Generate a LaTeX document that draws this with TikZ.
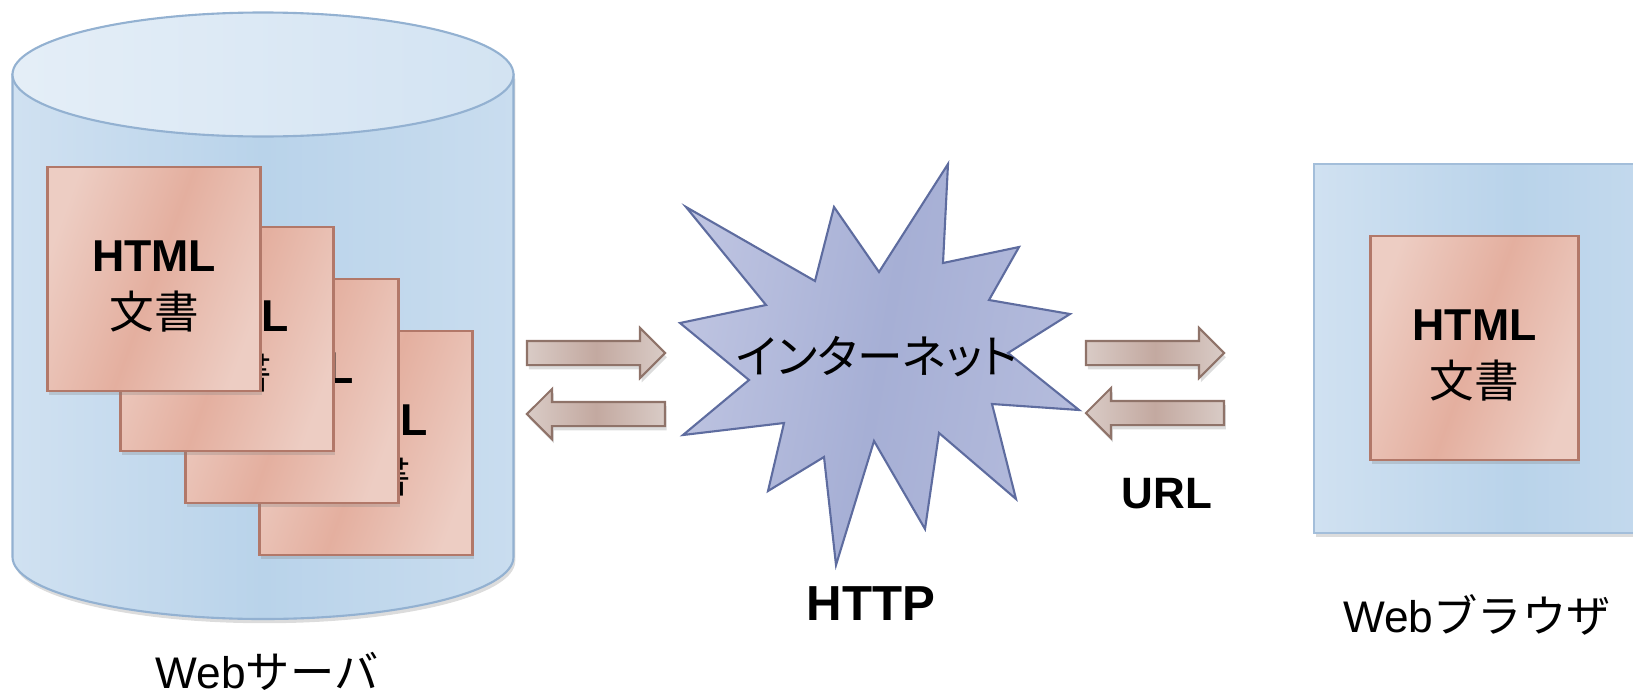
\documentclass[tikz,border=0pt]{standalone}
\usepackage{fontspec}
\setmainfont{Liberation Sans}
\newfontfamily\jpfont{Noto Sans CJK JP}
\newfontfamily\jpnarrow{Noto Sans CJK JP}[RawFeature=+palt]
\usetikzlibrary{shapes.arrows, shadows, positioning}

\definecolor{cylL}{HTML}{D0E1F1}
\definecolor{cylM}{HTML}{B9D3EA}
\definecolor{cylTop}{HTML}{D9E7F4}
\definecolor{cylLine}{HTML}{93B1D1}
\definecolor{docL}{HTML}{EDCDC3}
\definecolor{docM}{HTML}{E4AF9F}
\definecolor{docLine}{HTML}{B27869}
\definecolor{netL}{HTML}{BEC4E1}
\definecolor{netM}{HTML}{A6AFD5}
\definecolor{netLine}{HTML}{5E6C9F}
\definecolor{arrL}{HTML}{D9CBC6}
\definecolor{arrM}{HTML}{C3A9A0}
\definecolor{arrLine}{HTML}{8F7369}
\definecolor{brwLine}{HTML}{A3BEDA}

% text of an HTML page
\newcommand{\htmldoc}{\rule{0pt}{13pt}{\bfseries HTML}\\{\jpfont 文書}}

\begin{document}
\begin{tikzpicture}[x=0.1mm, y=-0.1mm,
  every node/.style={inner sep=0pt},
  softshadow/.style={drop shadow={opacity=0.28, shadow xshift=0.5pt, shadow yshift=-1.2pt}},
  docbox/.style={draw=docLine, line width=0.6pt, left color=docL, right color=docL, middle color=docM,
    shading angle=70, minimum width=21.3mm, minimum height=22.4mm, align=center,
    font=\fontsize{12.7}{16.5}\selectfont, softshadow},
  blockarrow/.style={single arrow, draw=arrLine, line width=0.6pt, left color=arrL, right color=arrL, middle color=arrM,
    minimum height=13.8mm, inner xsep=0pt, inner ysep=1.1mm, single arrow head extend=1.3mm,
    single arrow tip angle=90, single arrow head indent=0pt, softshadow},
  caption/.style={font=\fontsize{12.6}{14}\selectfont},
  boldcap/.style={font=\bfseries\fontsize{12.5}{15}\selectfont}]
\useasboundingbox (0,0) rectangle (1633,695);

% Web server: cylinder
\draw[draw=cylLine, line width=0.6pt, left color=cylL, right color=cylL!70!cylM, middle color=cylM, softshadow]
  (12.5,74.5) -- (12.5,557) arc[start angle=180, end angle=0, x radius=250.5, y radius=62]
  -- (513.5,74.5) -- cycle;
\draw[draw=cylLine, line width=0.6pt, left color=cylTop!70!white, right color=cylTop!80!cylM]
  (263,74.5) ellipse[x radius=250.5, y radius=62];

% stack of documents, back to front
\foreach \name/\px/\py in {doc4/366/443, doc3/292/391, doc2/227/339, doc1/154/279} {
  \node[docbox] (\name) at (\px,\py) {\htmldoc};
}
\node[caption] (srvlabel) at (267,671) {Web{\jpfont サーバ}};

% Internet
\draw[draw=netLine, line width=0.6pt, left color=netL, right color=netL!60!netM, middle color=netM, shading angle=80]
  (686,207) -- (815,281) -- (834,207) -- (879,272) -- (948,164) -- (943,263)
  -- (1019,247) -- (989,300) -- (1070,314) -- (1008,353) -- (1079,410) -- (992,404)
  -- (1016,499) -- (939,433) -- (925,529) -- (874,441) -- (836,565) -- (824,457)
  -- (768,491) -- (784,423) -- (683,435) -- (749,380) -- (680,323) -- (766,305) -- cycle;
\node[font=\jpnarrow\fontsize{13}{15}\selectfont] (net) at (877,357) {インターネット};
\node[font=\bfseries\fontsize{14}{16}\selectfont] (httplabel) at (871,604) {HTTP};

% request / response arrows
\node[blockarrow] (srvout) at (590,353) {};
\node[blockarrow, shape border rotate=180] (srvin) at (602,414) {};
\node[blockarrow] (brwout) at (1149,353) {};
\node[blockarrow, shape border rotate=180] (brwin) at (1161,413) {};
\node[boldcap] (urllabel) at (1167,494) {URL};

% Web browser window
\draw[draw=brwLine, line width=0.6pt, left color=cylL, right color=cylL!70!cylM, middle color=cylM, softshadow]
  (1314,164) rectangle (1720,533);
\node[docbox, minimum width=20.8mm] (brwdoc) at (1474.5,348) {\htmldoc};
\node[caption] (brwlabel) at (1477,615) {Web{\jpfont ブラウザ}};

\end{tikzpicture}
\end{document}
